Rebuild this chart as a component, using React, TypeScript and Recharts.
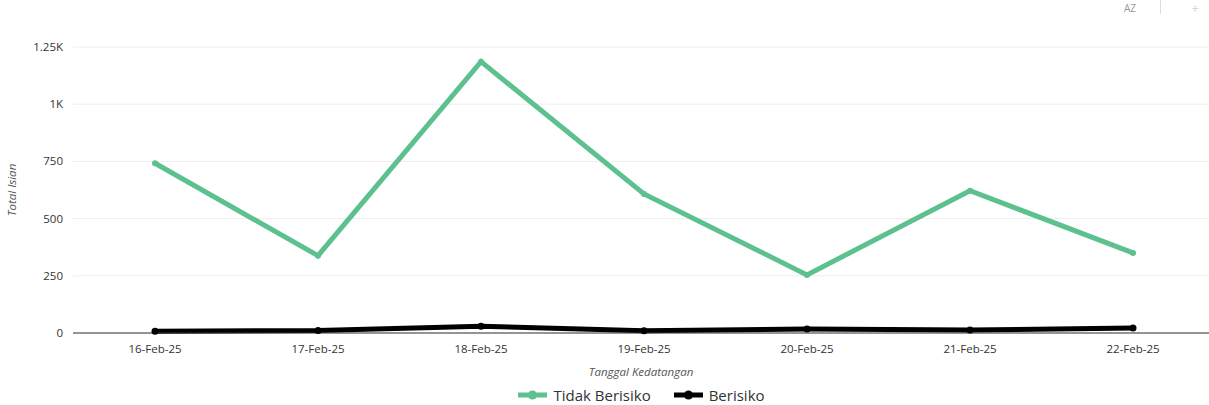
import React from "react";
import { LineChart, Line, XAxis, YAxis, CartesianGrid } from "recharts";

const dates = [
  "16-Feb-25",
  "17-Feb-25",
  "18-Feb-25",
  "19-Feb-25",
  "20-Feb-25",
  "21-Feb-25",
  "22-Feb-25",
];
const tidakBerisiko = [742, 338, 1186, 608, 254, 622, 350];
const berisiko = [8, 11, 30, 10, 17, 13, 22];
const yTicks = [0, 250, 500, 750, 1000, 1250];

const seriesNames = ["Tidak Berisiko", "Berisiko"];
const seriesColors = ["#5cc18f", "#000000"];

const data = dates.map((d, i) => ({
  date: d,
  tidak: tidakBerisiko[i],
  berisiko: berisiko[i],
}));

const fmtY = (v: number) => (v >= 1000 ? `${v / 1000}K` : `${v}`);

const font = "'Open Sans', 'Noto Sans', sans-serif";

function LegendBox() {
  return (
    <div
      style={{
        position: "absolute",
        left: 73,
        right: 0,
        top: 386,
        height: 18,
        display: "flex",
        justifyContent: "center",
        gap: 22,
        fontSize: 15,
        lineHeight: "18px",
        color: "#333",
        fontFamily: font,
      }}
    >
      {seriesNames.map((n, i) => (
        <div key={n} style={{ display: "flex", alignItems: "center" }}>
          <svg width={31} height={12} style={{ marginRight: 5 }}>
            <line
              x1={1}
              y1={6}
              x2={30}
              y2={6}
              stroke={seriesColors[i]}
              strokeWidth={5}
            />
            <circle cx={15.5} cy={6} r={4.5} fill={seriesColors[i]} />
          </svg>
          <span>{n}</span>
        </div>
      ))}
    </div>
  );
}

export default function App() {
  return (
    <div
      style={{
        position: "absolute",
        left: 0,
        top: 0,
        width: 1209,
        height: 405,
        background: "#fff",
        fontFamily: font,
        overflow: "hidden",
      }}
    >
      <div
        style={{
          position: "absolute",
          left: 1124,
          top: 2,
          fontSize: 10,
          color: "#999",
          lineHeight: "12px",
        }}
      >
        AZ
      </div>
      <div
        style={{
          position: "absolute",
          left: 1160,
          top: 0,
          width: 1,
          height: 14,
          background: "#ddd",
        }}
      />
      <div
        style={{
          position: "absolute",
          left: 1192,
          top: 2,
          fontSize: 11,
          color: "#aaa",
          lineHeight: "14px",
        }}
      >
        ÷
      </div>
      <LineChart
        width={1209}
        height={405}
        data={data}
        margin={{ top: 47, right: 0, bottom: 26, left: 0 }}
      >
        <CartesianGrid vertical={false} stroke="#eeeeee" />
        <XAxis
          dataKey="date"
          padding={{ left: 82, right: 76 }}
          tickLine={false}
          axisLine={{ stroke: "#333" }}
          tick={{ fontSize: 11.5, fill: "#333", fontFamily: font }}
          tickMargin={6}
          height={46}
          label={{
            value: "Tanggal Kedatangan",
            position: "insideBottom",
            offset: 3,
            style: {
              fontSize: 11.5,
              fontStyle: "italic",
              fill: "#555",
              fontFamily: font,
            },
          }}
        />
        <YAxis
          domain={[0, 1250]}
          ticks={yTicks}
          tickFormatter={fmtY}
          axisLine={false}
          tickLine={false}
          tickSize={0}
          tickMargin={10}
          width={73}
          tick={{ fontSize: 11.5, fill: "#333", fontFamily: font }}
          label={{
            value: "Total Isian",
            angle: -90,
            position: "insideLeft",
            offset: 12,
            style: {
              textAnchor: "middle",
              fontSize: 11.5,
              fontStyle: "italic",
              fill: "#555",
              fontFamily: font,
            },
          }}
        />
        <Line
          dataKey="tidak"
          name={seriesNames[0]}
          stroke={seriesColors[0]}
          strokeWidth={5}
          dot={{ r: 3, fill: seriesColors[0], strokeWidth: 0 }}
          activeDot={false}
          isAnimationActive={false}
        />
        <Line
          dataKey="berisiko"
          name={seriesNames[1]}
          stroke={seriesColors[1]}
          strokeWidth={5}
          dot={{ r: 3.5, fill: seriesColors[1], strokeWidth: 0 }}
          activeDot={false}
          isAnimationActive={false}
        />
      </LineChart>
      <LegendBox />
    </div>
  );
}
